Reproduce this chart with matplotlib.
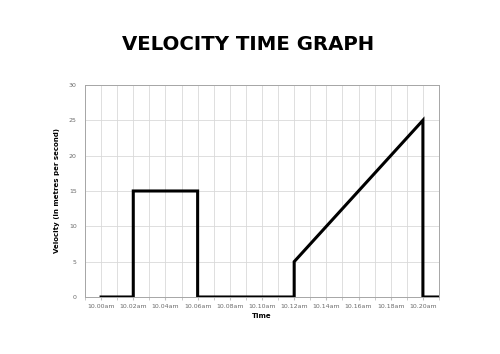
import matplotlib
matplotlib.use("Agg")
import matplotlib.pyplot as plt
import numpy as np

# Data: time in minutes after 10:00, velocity in m/s
time_min = [0, 2, 2, 6, 6, 12, 12, 20, 20, 21]
velocity = [0, 0, 15, 15, 0, 0, 5, 25, 0, 0]
tick_minutes = [0, 2, 4, 6, 8, 10, 12, 14, 16, 18, 20]
tick_labels = ["10.00am", "10.02am", "10.04am", "10.06am", "10.08am", "10.10am",
               "10.12am", "10.14am", "10.16am", "10.18am", "10.20am"]
y_ticks = [0, 5, 10, 15, 20, 25, 30]

fig = plt.figure(figsize=(5.0, 3.54), dpi=100)
ax = fig.add_axes([0.17, 0.161, 0.708, 0.599])

ax.plot(time_min, velocity, color="black", lw=2.2, solid_joinstyle="miter", zorder=3)

ax.set_xlim(-1, 21)
ax.set_ylim(0, 30)
ax.set_xticks(tick_minutes)
ax.set_xticklabels(tick_labels)
ax.set_xticks(np.arange(-1, 22, 1), minor=True)
ax.set_yticks(y_ticks)

ax.grid(True, which="both", axis="x", color="#d9d9d9", lw=0.6)
ax.grid(True, which="major", axis="y", color="#d9d9d9", lw=0.6)
ax.set_axisbelow(True)

for s in ax.spines.values():
    s.set_color("#a6a6a6")
    s.set_linewidth(0.7)

ax.tick_params(axis="x", which="both", length=2, color="#bfbfbf", labelsize=4.5,
               labelcolor="#6b6b6b", pad=3)
ax.tick_params(axis="y", length=0, labelsize=4.5, labelcolor="#6b6b6b", pad=6)

ax.set_xlabel("Time", fontsize=5, fontweight="bold", labelpad=3)
ax.set_ylabel("Velocity (in metres per second)", fontsize=5, fontweight="bold", labelpad=6)

fig.text(0.496, 0.873, "VELOCITY TIME GRAPH", ha="center", va="center",
         fontsize=14.2, fontweight="heavy", family="DejaVu Sans")

fig.savefig("out.png", dpi=100, facecolor="white")
